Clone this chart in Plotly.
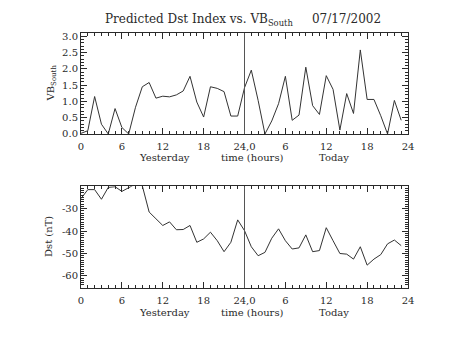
import plotly.graph_objects as go

hours = list(range(48))
vb_south = [0.02, 0.10, 1.15, 0.30, 0.0, 0.78, 0.20, 0.0, 0.82, 1.45,
            1.58, 1.10, 1.16, 1.14, 1.20, 1.32, 1.77, 0.98, 0.52, 1.45,
            1.40, 1.30, 0.55, 0.55, 1.42, 1.96, 1.03, 0.0, 0.40, 0.93,
            1.77, 0.42, 0.58, 2.05, 0.87, 0.60, 1.79, 1.37, 0.12, 1.24,
            0.63, 2.58, 1.06, 1.06, 0.56, 0.0, 1.03, 0.42]
dst = [-25.5, -21.5, -21.5, -25.8, -20.5, -20.2, -22.3, -20.5, -19.0, -19.8,
       -31.5, -34.5, -37.5, -35.9, -39.4, -39.3, -37.5, -45.0, -43.5, -40.5,
       -44.3, -49.2, -45.0, -35.0, -39.8, -47.0, -51.0, -49.5, -43.2, -39.0,
       -44.3, -48.0, -47.5, -41.7, -49.2, -48.7, -38.5, -44.3, -50.0, -50.3,
       -52.5, -47.0, -55.2, -52.5, -50.5, -45.7, -44.0, -46.5]

x_tickvals = [0, 6, 12, 18, 24, 30, 36, 42, 48]
x_ticktext = ["0", "6", "12", "18", "24,0", "6", "12", "18", "24"]
vb_tickvals = [0.0, 0.5, 1.0, 1.5, 2.0, 2.5, 3.0]
vb_ticktext = ["0.0", "0.5", "1.0", "1.5", "2.0", "2.5", "3.0"]
dst_tickvals = [-60, -50, -40, -30]
dst_ticktext = ["-60", "-50", "-40", "-30"]
day_labels = ["Yesterday", "time (hours)", "Today"]
day_label_pos = [12.3, 25.2, 37.2]
divider_hour = 24

FONT = "DejaVu Serif"
INK = "#2a2a2a"

fig = go.Figure()
fig.add_trace(go.Scatter(x=hours, y=vb_south, mode="lines",
                         line=dict(color="#333333", width=1),
                         xaxis="x", yaxis="y", showlegend=False))
fig.add_trace(go.Scatter(x=hours, y=dst, mode="lines",
                         line=dict(color="#333333", width=1),
                         xaxis="x2", yaxis="y2", showlegend=False))

xcommon = dict(range=[0, 48], tickvals=x_tickvals, ticktext=x_ticktext,
               ticks="inside", ticklen=6, tickcolor=INK, showline=True,
               linecolor=INK, linewidth=1, mirror="allticks", showgrid=False,
               zeroline=False, ticklabelstandoff=3,
               tickfont=dict(family=FONT, size=10, color=INK),
               minor=dict(dtick=1, ticks="inside", ticklen=3, tickcolor=INK,
                          showgrid=False))
ycommon = dict(ticks="inside", ticklen=6, tickcolor=INK, showline=True,
               linecolor=INK, linewidth=1, mirror="allticks", showgrid=False,
               zeroline=False, tickfont=dict(family=FONT, size=10, color=INK))

fig.update_layout(
    width=453, height=340,
    margin=dict(l=81, r=45, t=33, b=52),
    paper_bgcolor="white", plot_bgcolor="white",
    xaxis=dict(domain=[0, 1], anchor="y", **xcommon),
    yaxis=dict(domain=[0.604, 1.0], anchor="x", range=[0, 3.1],
               tickvals=vb_tickvals, ticktext=vb_ticktext,
               minor=dict(dtick=0.1, ticks="inside", ticklen=3,
                          tickcolor=INK, showgrid=False), **ycommon),
    xaxis2=dict(domain=[0, 1], anchor="y2", **xcommon),
    yaxis2=dict(domain=[0.0, 0.399], anchor="x2", range=[-65.4, -20],
                tickvals=dst_tickvals, ticktext=dst_ticktext,
                minor=dict(dtick=1, ticks="inside", ticklen=3,
                           tickcolor=INK, showgrid=False), **ycommon),
)

shapes = []
for xr, yr in (("x", "y"), ("x2", "y2")):
    shapes.append(dict(type="line", xref=xr, yref=yr + " domain",
                       x0=divider_hour, x1=divider_hour, y0=0, y1=1,
                       line=dict(color="#555555", width=1)))
fig.update_layout(shapes=shapes)

ann = []
ann.append(dict(text="Predicted Dst Index vs. VB<sub>South</sub>     07/17/2002",
                xref="paper", yref="paper", x=0.495, y=1.0, yshift=3,
                xanchor="center", yanchor="bottom", showarrow=False,
                font=dict(family=FONT, size=12, color=INK)))
for xr, ypos in (("x", 0.604), ("x2", 0.0)):
    for lab, pos in zip(day_labels, day_label_pos):
        ann.append(dict(text=lab, xref=xr, yref="paper", x=pos, y=ypos,
                        yshift=-24, xanchor="center", yanchor="middle",
                        showarrow=False,
                        font=dict(family=FONT, size=10, color=INK)))
ann.append(dict(text="VB<sub>South</sub>", xref="paper", yref="paper",
                x=0, xshift=-30, y=0.802, textangle=-90, xanchor="center",
                yanchor="middle", showarrow=False,
                font=dict(family=FONT, size=10, color=INK)))
ann.append(dict(text="Dst (nT)", xref="paper", yref="paper",
                x=0, xshift=-33, y=0.2, textangle=-90, xanchor="center",
                yanchor="middle", showarrow=False,
                font=dict(family=FONT, size=10, color=INK)))
fig.update_layout(annotations=ann)

fig.write_html("out.html")
